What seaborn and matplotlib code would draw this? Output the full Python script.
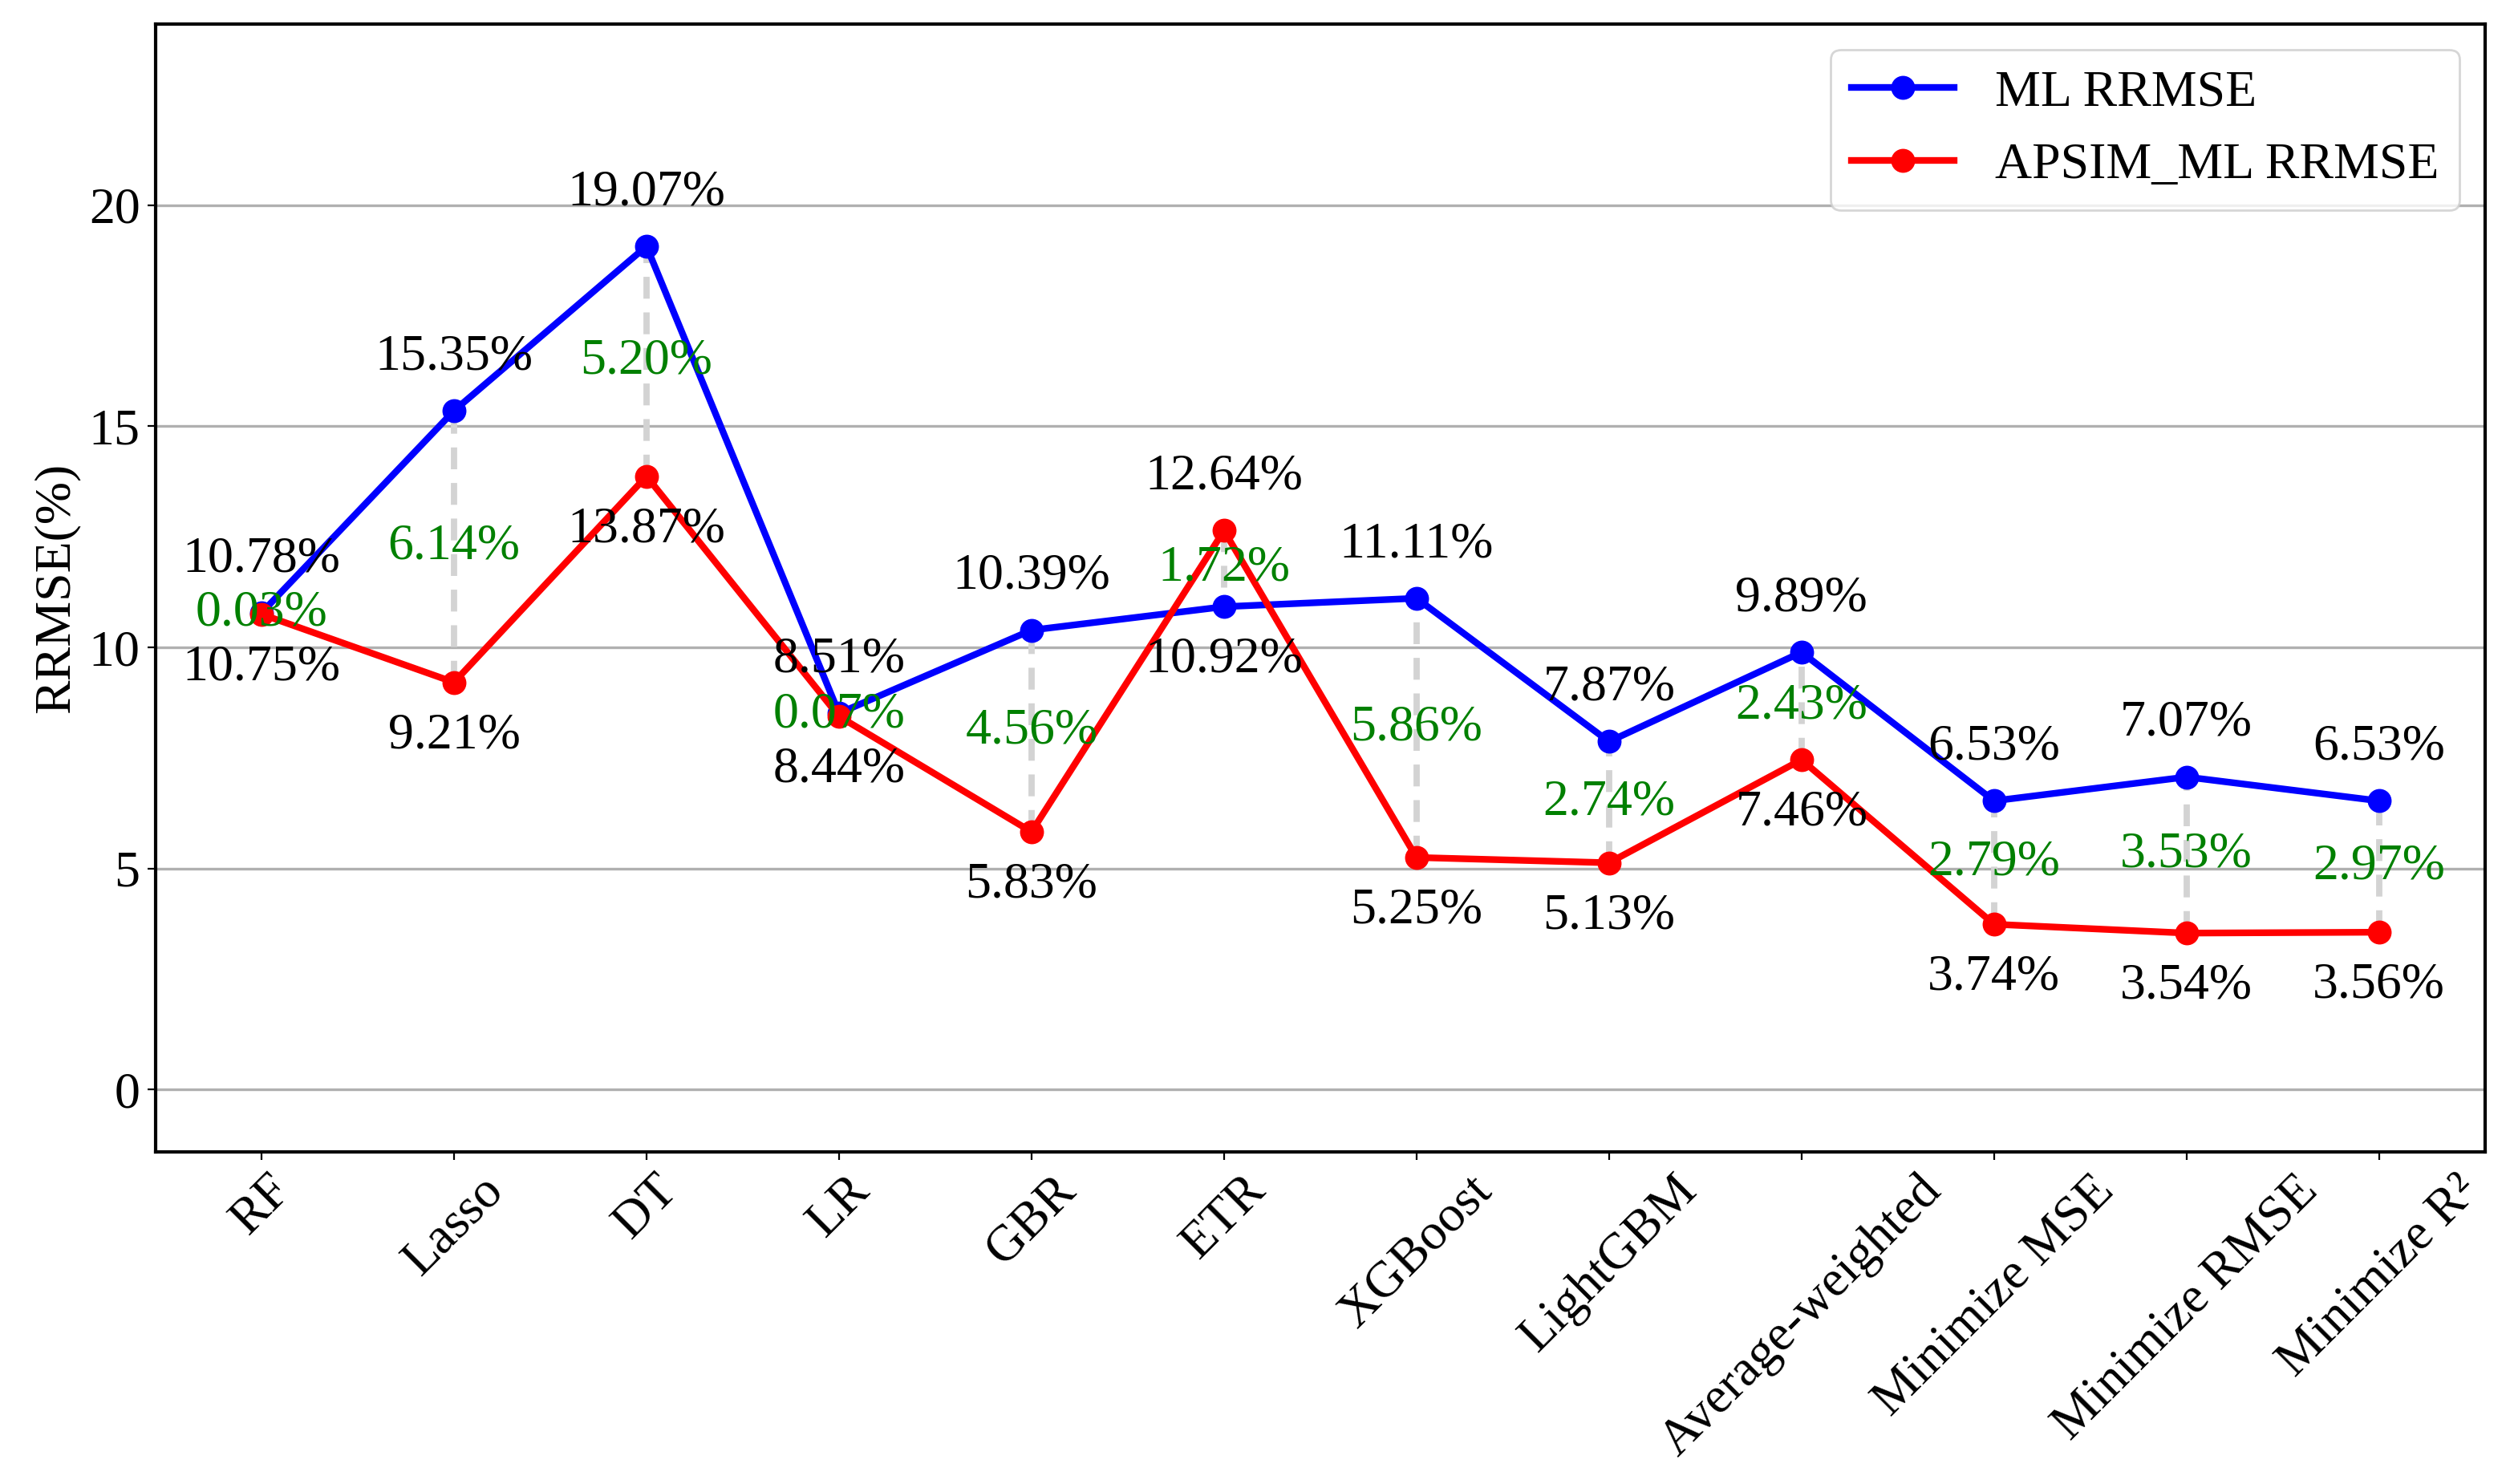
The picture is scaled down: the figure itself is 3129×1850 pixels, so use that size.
import pandas as pd
import seaborn as sns
import matplotlib.pyplot as plt

# data
models = ["RF", "Lasso", "DT", "LR", "GBR", "ETR", "XGBoost", "LightGBM",
          "Average-weighted", "Minimize MSE", "Minimize RMSE", "Minimize R\u00b2"]
ml_rrmse = [10.78, 15.35, 19.07, 8.51, 10.39, 10.92, 11.11, 7.87, 9.89, 6.53, 7.07, 6.53]
apsim_rrmse = [10.75, 9.21, 13.87, 8.44, 5.83, 12.64, 5.25, 5.13, 7.46, 3.74, 3.54, 3.56]
diff_labels = ["0.03%", "6.14%", "5.20%", "0.07%", "4.56%", "1.72%", "5.86%",
               "2.74%", "2.43%", "2.79%", "3.53%", "2.97%"]

df = pd.DataFrame({"model": models, "ml": ml_rrmse, "apsim": apsim_rrmse})

plt.rcParams["font.family"] = ["Liberation Serif", "DejaVu Serif"]
fs = 23

fig, ax = plt.subplots(figsize=(15.645, 9.25), dpi=200)

# gray dashed connectors between the two series
ax.vlines(range(len(df)), df["apsim"], df["ml"], colors="#d3d3d3",
          linestyles=(0, (3.5, 2.2)), linewidth=2.8, zorder=1)

sns.lineplot(data=df, x="model", y="ml", sort=False, color="blue", marker="o",
             markersize=10, markeredgecolor="blue", linewidth=3,
             label="ML RRMSE", ax=ax, zorder=3)
sns.lineplot(data=df, x="model", y="apsim", sort=False, color="red", marker="o",
             markersize=10, markeredgecolor="red", linewidth=3,
             label="APSIM_ML RRMSE", ax=ax, zorder=3)

# value labels: higher one above, lower one below
for i, row in df.iterrows():
    hi_above = row["ml"] >= row["apsim"]
    ax.annotate(f"{row['ml']:.2f}%", (i, row["ml"]), xytext=(0, 24 if hi_above else -24),
                textcoords="offset points", ha="center", va="center", fontsize=fs)
    ax.annotate(f"{row['apsim']:.2f}%", (i, row["apsim"]), xytext=(0, -24 if hi_above else 24),
                textcoords="offset points", ha="center", va="center", fontsize=fs)
    ax.text(i, (row["ml"] + row["apsim"]) / 2, diff_labels[i], color="green",
            ha="center", va="center", fontsize=fs, zorder=4)

ax.set_ylim(-1.4, 24.1)
ax.set_yticks([0, 5, 10, 15, 20])
ax.grid(axis="y", color="#b0b0b0", linewidth=1.2)
ax.set_axisbelow(True)
ax.set_xlabel("")
ax.set_ylabel("RRMSE(%)", fontsize=fs)
ax.tick_params(axis="x", rotation=45, labelsize=fs)
ax.tick_params(axis="y", labelsize=fs)
for s in ax.spines.values():
    s.set_linewidth(1.5)

ax.legend(loc="upper right", fontsize=fs, framealpha=0.8)

plt.subplots_adjust(left=0.062, right=0.99, top=0.984, bottom=0.224)
plt.savefig("out.png", dpi=200)
